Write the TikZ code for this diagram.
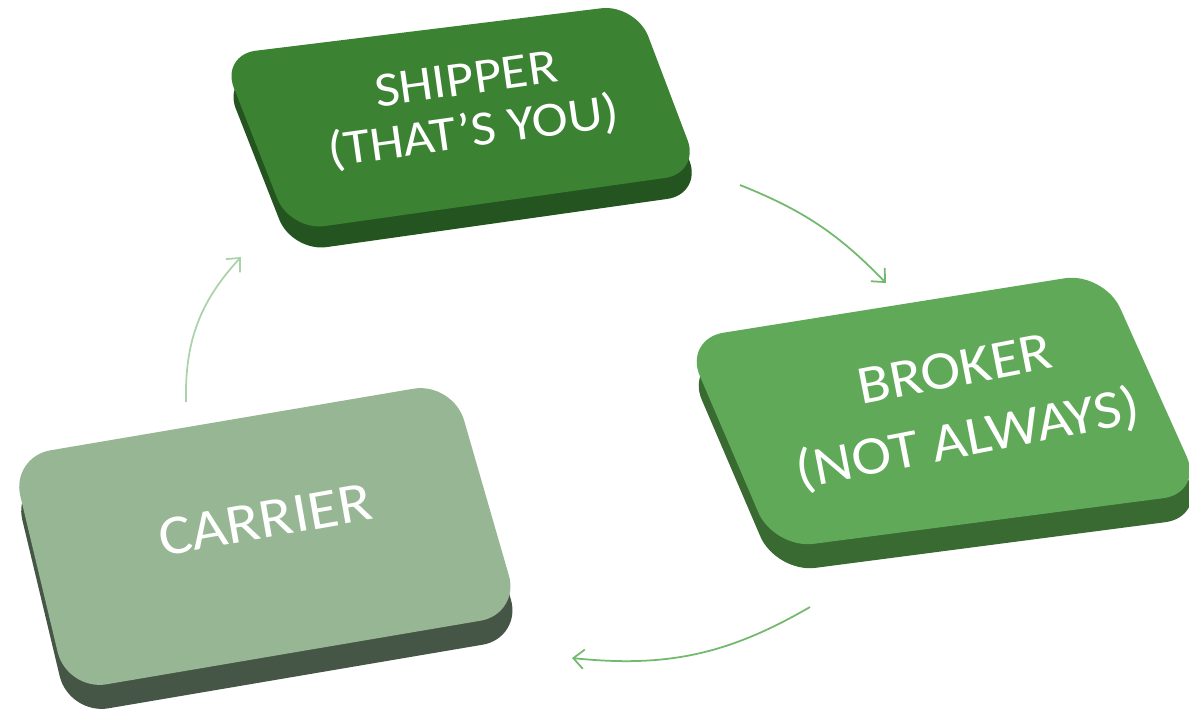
\documentclass[tikz,border=0pt]{standalone}
\usepackage{fontspec}
\setmainfont{Carlito}[FakeStretch=1.1]
\usetikzlibrary{arrows.meta}
\definecolor{shippertop}{RGB}{59,130,51}
\definecolor{shipperside}{RGB}{36,84,31}
\definecolor{brokertop}{RGB}{95,169,88}
\definecolor{brokerside}{RGB}{56,106,50}
\definecolor{carriertop}{RGB}{151,183,148}
\definecolor{carrierside}{RGB}{70,86,70}
\definecolor{flowgreen}{RGB}{114,185,110}
\definecolor{flowpale}{RGB}{172,210,170}

\begin{document}
\begin{tikzpicture}[x=0.02cm, y=-0.02cm,
    boxtext/.style={text=white, align=center, inner sep=0pt},
    flow/.style={line width=1pt, flowgreen, -{Straight Barb[length=6pt,width=11pt]}}]
    \useasboundingbox (0,0) rectangle (1189,721);

    % Shipper (oben)
    \fill[shipperside, rounded corners=0.7cm, shift={(2,21)}] (221,55) -- (636,4) -- (700,173) -- (290,231) -- cycle;
    \fill[shippertop, rounded corners=0.7cm] (221,55) -- (636,4) -- (700,173) -- (290,231) -- cycle;
    \node[boxtext, rotate=8, font=\fontsize{28}{30}\selectfont] (shipper) at (470,108) {SHIPPER\\(THAT’S YOU)};

    % Broker (rechts)
    \fill[brokerside, rounded corners=0.8cm, shift={(2,24)}] (684,339) -- (1104,272) -- (1203,493) -- (774,549) -- cycle;
    \fill[brokertop, rounded corners=0.8cm] (684,339) -- (1104,272) -- (1203,493) -- (774,549) -- cycle;
    \node[boxtext, rotate=11, font=\fontsize{31}{40}\selectfont] (broker) at (962,407) {BROKER\\(NOT ALWAYS)};

    % Carrier (links)
    \fill[carrierside, rounded corners=0.8cm, shift={(2,24)}] (11,457) -- (453,382) -- (520,614) -- (67,691) -- cycle;
    \fill[carriertop, rounded corners=0.8cm] (11,457) -- (453,382) -- (520,614) -- (67,691) -- cycle;
    \node[boxtext, rotate=10, font=\fontsize{32}{36}\selectfont] (carrier) at (265,520) {CARRIER};

    % Pfeile
    \coordinate (shipper-out) at (740,185);
    \coordinate (broker-in) at (886,283);
    \coordinate (broker-out) at (810,607);
    \coordinate (carrier-in) at (572,658);
    \coordinate (carrier-out) at (186,402);
    \coordinate (shipper-in) at (241,257);
    \draw[flow] (shipper-out) to[bend left=12] (broker-in);
    \draw[flow] (broker-out) to[bend left=18] (carrier-in);
    \draw[flow, flowpale] (carrier-out) to[bend left=22] (shipper-in);
\end{tikzpicture}
\end{document}
